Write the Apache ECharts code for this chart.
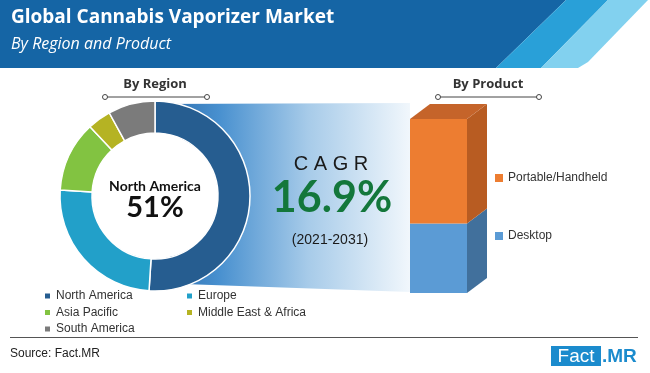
<!DOCTYPE html>
<html>
<head>
<meta charset="utf-8">
<script src="https://cdn.jsdelivr.net/npm/echarts@6/dist/echarts.min.js"></script>
<style>
html,body{margin:0;padding:0;background:#fff;}
#chart{width:650px;height:373px;}
</style>
</head>
<body>
<div id="chart"></div>
<script>
// ---- data ----
var regions = ['North America', 'Europe', 'Asia Pacific', 'Middle East & Africa', 'South America'];
var regionShares = [51, 25, 12, 4, 8];
var regionColors = ['#265d90', '#22a0c9', '#82c341', '#b5b323', '#7b7b7b'];
var products = ['Desktop', 'Portable/Handheld'];
var productShares = [40, 60];
var productColors = ['#5b9bd5', '#ed7d31'];
var productSideColors = ['#41709c', '#b85c22'];
var productTopColors = ['#4a80b3', '#c5642a'];
var titleText = 'Global Cannabis Vaporizer Market';
var subtitleText = 'By Region and Product';
var highlightRegion = regions[0];
var highlightShare = regionShares[0] + '%';
var cagrValue = '16.9%';
var cagrPeriod = '(2021-2031)';

var chart = echarts.init(document.getElementById('chart'), null, {renderer: 'canvas'});

// stacked cumulative
var starts = [], acc = 0;
productShares.forEach(function (v) { starts.push(acc); acc += v; });

var DX = 20, DY = -15;
function makeRender(idx) {
  return function (params, api) {
    var s = api.value(1), e = api.value(2);
    var c = api.coord([api.value(0), s]);
    var c2 = api.coord([api.value(0), e]);
    var w = api.size([1, 0])[0];
    var x0 = c[0] - w / 2, x1 = c[0] + w / 2;
    var yb = c[1], yt = c2[1];
    var children = [
      {type: 'rect', shape: {x: x0, y: yt, width: w, height: yb - yt}, style: {fill: productColors[idx]}},
      {type: 'polygon', shape: {points: [[x1, yb], [x1 + DX, yb + DY], [x1 + DX, yt + DY], [x1, yt]]}, style: {fill: productSideColors[idx]}}
    ];
    if (idx === productShares.length - 1) {
      children.push({type: 'polygon', shape: {points: [[x0, yt], [x0 + DX, yt + DY], [x1 + DX, yt + DY], [x1, yt]]}, style: {fill: productTopColors[idx]}});
    }
    return {type: 'group', children: children};
  };
}

var productSeries = products.map(function (p, i) {
  return {
    type: 'custom', name: p, xAxisIndex: 0, yAxisIndex: 0,
    itemStyle: {color: productColors[i]},
    renderItem: makeRender(i),
    data: [[0, starts[i], starts[i] + productShares[i]]],
    z: 5
  };
});

var legendText = {fontFamily: 'Liberation Sans', fontSize: 12, color: '#333', lineHeight: 16};

var option = {
  animation: false,
  grid: {left: 410, top: 119, width: 57, height: 174},
  xAxis: {type: 'category', data: ['Product'], show: false},
  yAxis: {type: 'value', min: 0, max: 100, show: false},
  legend: [
    {orient: 'vertical', left: 43, top: 288, padding: 0, itemWidth: 7, itemHeight: 7, itemGap: 0.5, icon: 'rect',
     data: [regions[0], regions[2], regions[4]], textStyle: legendText, selectedMode: false},
    {orient: 'vertical', left: 185, top: 288, padding: 0, itemWidth: 7, itemHeight: 7, itemGap: 0.5, icon: 'rect',
     data: [regions[1], regions[3]], textStyle: legendText, selectedMode: false},
    {orient: 'vertical', left: 495, top: 170, padding: 0, itemWidth: 8, itemHeight: 8, itemGap: 42, icon: 'rect',
     data: [products[1], products[0]], textStyle: {fontFamily: 'Liberation Sans', fontSize: 12, color: '#333', lineHeight: 16}, selectedMode: false}
  ],
  graphic: [
    // header band
    {type: 'polygon', z: 0, shape: {points: [[0, 0], [566, 0], [496, 68], [0, 68]]}, style: {fill: '#1565a5'}},
    {type: 'polygon', z: 0, shape: {points: [[566, 0], [608, 0], [541, 68], [496, 68]]}, style: {fill: '#29a0d8'}},
    {type: 'polygon', z: 0, shape: {points: [[608, 0], [648, 0], [588, 62], [578, 68], [541, 68]]}, style: {fill: '#82d1ef'}},
    {type: 'text', z: 2, left: 11, top: 8, style: {text: titleText, fill: '#fff', font: 'bold 19px "Open Sans"'}},
    {type: 'text', z: 2, left: 11, top: 36, style: {text: subtitleText, fill: '#fff', font: 'italic 16px "Open Sans"'}},
    // funnel gradient
    {type: 'polygon', z: 0, shape: {points: [[155, 104], [410, 103], [410, 292], [155, 283]]},
     style: {fill: new echarts.graphic.LinearGradient(0, 0, 1, 0, [
       {offset: 0, color: '#2a68a8'}, {offset: 0.25, color: '#4890cf'}, {offset: 0.6, color: '#a7cbe9'}, {offset: 1, color: '#f1f7fc'}])}},
    // donut hole
    {type: 'circle', z: 3, shape: {cx: 155, cy: 196, r: 64}, style: {fill: '#fff'}},
    // By Region
    {type: 'text', z: 2, x: 155, y: 84, style: {text: 'By Region', fill: '#333', font: 'bold 13px "Open Sans"', align: 'center', verticalAlign: 'middle'}},
    {type: 'line', z: 2, shape: {x1: 107, y1: 97, x2: 205, y2: 97}, style: {stroke: '#444', lineWidth: 1}},
    {type: 'circle', z: 3, shape: {cx: 105, cy: 97, r: 2.5}, style: {fill: '#fff', stroke: '#444', lineWidth: 1}},
    {type: 'circle', z: 3, shape: {cx: 207, cy: 97, r: 2.5}, style: {fill: '#fff', stroke: '#444', lineWidth: 1}},
    // By Product
    {type: 'text', z: 2, x: 488, y: 84, style: {text: 'By Product', fill: '#333', font: 'bold 13px "Open Sans"', align: 'center', verticalAlign: 'middle'}},
    {type: 'line', z: 2, shape: {x1: 440, y1: 97, x2: 537, y2: 97}, style: {stroke: '#444', lineWidth: 1}},
    {type: 'circle', z: 3, shape: {cx: 438, cy: 97, r: 2.5}, style: {fill: '#fff', stroke: '#444', lineWidth: 1}},
    {type: 'circle', z: 3, shape: {cx: 539, cy: 97, r: 2.5}, style: {fill: '#fff', stroke: '#444', lineWidth: 1}},
    // donut centre text
    {type: 'text', z: 10, x: 155, y: 186, style: {text: highlightRegion, fill: '#111', font: 'bold 14px Lato', align: 'center', verticalAlign: 'middle'}},
    {type: 'text', z: 10, x: 155, y: 208, style: {text: highlightShare, fill: '#111', font: 'bold 29px Lato', align: 'center', verticalAlign: 'middle'}},
    // CAGR
    {type: 'text', z: 2, x: 331, y: 164, style: {text: 'C A G R', fill: '#1a1a1a', font: '20px "Liberation Sans"', align: 'center', verticalAlign: 'middle'}},
    {type: 'text', z: 2, x: 332, y: 198, style: {text: cagrValue, fill: '#13773b', font: 'bold 43px Lato', align: 'center', verticalAlign: 'middle'}},
    {type: 'text', z: 2, x: 330, y: 240, style: {text: cagrPeriod, fill: '#1a1a1a', font: '14px "Liberation Sans"', align: 'center', verticalAlign: 'middle'}},
    // footer
    {type: 'line', z: 2, shape: {x1: 10, y1: 337.5, x2: 638, y2: 337.5}, style: {stroke: '#555', lineWidth: 1}},
    {type: 'text', z: 2, left: 10, top: 348, style: {text: 'Source: Fact.MR', fill: '#222', font: '12px "Liberation Sans"'}},
    {type: 'rect', z: 2, shape: {x: 551, y: 346, width: 50, height: 20}, style: {fill: '#1b8bcd'}},
    {type: 'text', z: 3, x: 576, y: 356.5, style: {text: 'Fact', fill: '#fff', font: '19px "Liberation Sans"', align: 'center', verticalAlign: 'middle'}},
    {type: 'text', z: 3, x: 602, y: 356.5, style: {text: '.MR', fill: '#1b8bcd', font: 'bold 19px "Liberation Sans"', align: 'left', verticalAlign: 'middle'}}
  ],
  series: [
    {
      type: 'pie', name: 'By Region', center: [155, 196], radius: [63, 95], startAngle: 90, clockwise: true,
      label: {show: false}, labelLine: {show: false}, silent: true, z: 4,
      itemStyle: {borderColor: '#fff', borderWidth: 1.5},
      data: regions.map(function (r, i) { return {name: r, value: regionShares[i], itemStyle: {color: regionColors[i]}}; })
    }
  ].concat(productSeries)
};
chart.setOption(option);
</script>
</body>
</html>
